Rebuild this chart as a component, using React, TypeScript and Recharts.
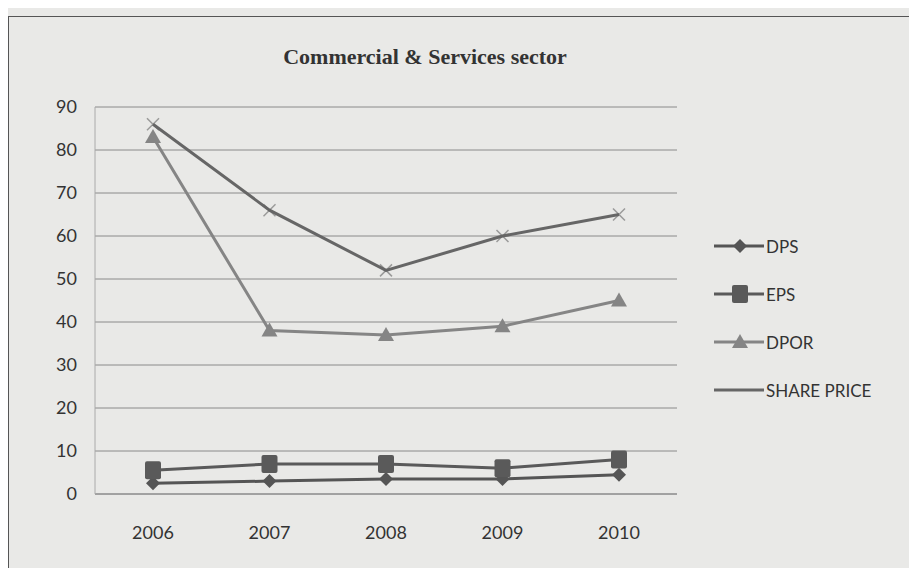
import React from 'react';
import { LineChart, Line, XAxis, YAxis, CartesianGrid } from 'recharts';

const years = ['2006', '2007', '2008', '2009', '2010'];
const dps = [2.5, 3, 3.5, 3.5, 4.5];
const eps = [5.5, 7, 7, 6, 8];
const dpor = [83, 38, 37, 39, 45];
const sharePrice = [86, 66, 52, 60, 65];
const yTicks = [0, 10, 20, 30, 40, 50, 60, 70, 80, 90];

const chartData = years.map((y, i) => ({
  year: y,
  DPS: dps[i],
  EPS: eps[i],
  DPOR: dpor[i],
  'SHARE PRICE': sharePrice[i],
}));

const series = [
  { key: 'DPS', color: '#555', shape: 'diamond' },
  { key: 'EPS', color: '#5a5a5a', shape: 'square' },
  { key: 'DPOR', color: '#858585', shape: 'triangle' },
  { key: 'SHARE PRICE', color: '#666', shape: 'cross' },
];

const font = 'Lato, "Liberation Sans", sans-serif';

const Marker = ({ shape, cx, cy, color }: { shape: string; cx: number; cy: number; color: string }) => {
  if (shape === 'diamond') {
    return <polygon points={`${cx},${cy - 7} ${cx + 7},${cy} ${cx},${cy + 7} ${cx - 7},${cy}`} fill={color} />;
  }
  if (shape === 'square') {
    return <rect x={cx - 8} y={cy - 9} width={16} height={18} rx={2} fill={color} />;
  }
  if (shape === 'triangle') {
    return <polygon points={`${cx},${cy - 8} ${cx + 8},${cy + 6} ${cx - 8},${cy + 6}`} fill={color} />;
  }
  return (
    <g stroke={color} strokeWidth={1.5} opacity={0.6}>
      <line x1={cx - 6} y1={cy - 6} x2={cx + 6} y2={cy + 6} />
      <line x1={cx - 6} y1={cy + 6} x2={cx + 6} y2={cy - 6} />
    </g>
  );
};

const makeDot = (shape: string, color: string) => (props: any) => (
  <Marker key={`${shape}-${props.index}`} shape={shape} cx={props.cx} cy={props.cy} color={color} />
);

// legend drawn beside the chart so it does not eat into the plot area
const LegendBox = () => (
  <div style={{ position: 'absolute', left: 712, top: 222, fontFamily: font, fontSize: 17, color: '#333' }}>
    {series.map((s) => (
      <div key={s.key} style={{ display: 'flex', alignItems: 'center', height: 48 }}>
        <svg width={54} height={20}>
          <line x1={2} y1={10} x2={52} y2={10} stroke={s.color} strokeWidth={3} />
          {s.shape === 'cross' ? null : <Marker shape={s.shape} cx={28} cy={10} color={s.color} />}
        </svg>
        <span>{s.key}</span>
      </div>
    ))}
  </div>
);

export default function App() {
  return (
    <div style={{ position: 'relative', width: 917, height: 576, margin: -8, background: '#e9e9e7', overflow: 'hidden' }}>
      <div style={{ position: 'absolute', left: 8, top: 16, width: 930, height: 600, border: '1.5px solid #555' }} />
      <div
        style={{
          position: 'absolute',
          left: 0,
          width: 850,
          top: 44,
          textAlign: 'center',
          fontFamily: '"Liberation Serif", serif',
          fontWeight: 'bold',
          fontSize: 22,
          color: '#333',
        }}
      >
        Commercial &amp; Services sector
      </div>
      <LineChart
        width={917}
        height={576}
        data={chartData}
        margin={{ top: 107, right: 240, left: 43, bottom: 52 }}
        style={{ position: 'absolute', left: 0, top: 0 }}
      >
        <CartesianGrid vertical={false} stroke="#8a8a8a" strokeWidth={1} />
        <XAxis
          dataKey="year"
          padding={{ left: 58, right: 58 }}
          axisLine={{ stroke: '#8a8a8a' }}
          tickLine={false}
          tickMargin={26}
          tick={{ fill: '#333', fontSize: 18, fontFamily: font }}
        />
        <YAxis
          domain={[0, 90]}
          ticks={yTicks}
          interval={0}
          width={52}
          axisLine={{ stroke: '#aaa' }}
          tickLine={false}
          tickMargin={12}
          tick={{ fill: '#333', fontSize: 18, fontFamily: font }}
        />
        {series.map((s) => (
          <Line
            key={s.key}
            type="linear"
            dataKey={s.key}
            stroke={s.color}
            strokeWidth={3}
            dot={makeDot(s.shape, s.color)}
            activeDot={false}
            isAnimationActive={false}
          />
        ))}
      </LineChart>
      <LegendBox />
    </div>
  );
}
